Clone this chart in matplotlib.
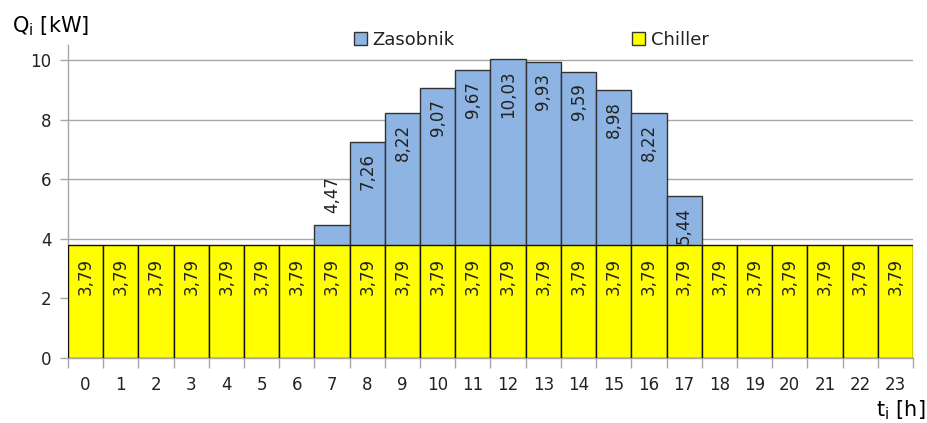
import matplotlib
matplotlib.use("Agg")
import matplotlib.pyplot as plt
from matplotlib.patches import Patch
import numpy as np

plt.rcParams['font.family'] = ['DejaVu Sans']
plt.rcParams['mathtext.default'] = 'regular'

hours = list(range(24))
chiller = [3.79] * 24
zasobnik = [None, None, None, None, None, None, None,
            4.47, 7.26, 8.22, 9.07, 9.67, 10.03, 9.93, 9.59, 8.98, 8.22, 5.44,
            None, None, None, None, None, None]
y_ticks = [0, 2, 4, 6, 8, 10]

blue = '#8DB4E2'
yellow = '#FFFF00'
grid_c = '#A6A6A6'
text_c = '#222222'

fig = plt.figure(figsize=(9.27, 4.23), dpi=100)
ax = fig.add_axes([68 / 927, 1 - 358 / 423, (913 - 68) / 927, (358 - 45) / 423])

ax.set_xlim(-0.5, 23.5)
ax.set_ylim(0, 10.5)

# storage (total heat) bars behind, chiller share in front
zx = [h for h, v in zip(hours, zasobnik) if v is not None]
zv = [v for v in zasobnik if v is not None]
ax.bar(zx, zv, width=1.0, color=blue, edgecolor='#333333', linewidth=1.0, zorder=2)
ax.bar(hours, chiller, width=1.0, color=yellow, edgecolor='#111111', linewidth=1.0, zorder=3)

label_len = 1.4  # room needed inside a bar segment for a rotated label (data units)
lab_fs = 12
for h, v in zip(zx, zv):
    txt = f"{v:.2f}".replace('.', ',')
    if v - chiller[h] > label_len:
        ax.annotate(txt, (h, v), xytext=(0, -8), textcoords='offset points',
                    rotation=90, ha='center', va='top', fontsize=lab_fs,
                    color=text_c, zorder=5)
    else:
        ax.annotate(txt, (h, v), xytext=(0, 8.5), textcoords='offset points',
                    rotation=90, ha='center', va='bottom', fontsize=lab_fs,
                    color=text_c, zorder=5)

for h, v in zip(hours, chiller):
    ax.annotate(f"{v:.2f}".replace('.', ','), (h, v), xytext=(0, -9),
                textcoords='offset points', rotation=90, ha='center', va='top',
                fontsize=lab_fs, color=text_c, zorder=5)

# axes styling
ax.set_yticks(y_ticks)
ax.yaxis.grid(True, color=grid_c, linewidth=1.0)
ax.set_axisbelow(True)
for s in ['top', 'right']:
    ax.spines[s].set_visible(False)
for s in ['left', 'bottom']:
    ax.spines[s].set_color(grid_c)
    ax.spines[s].set_linewidth(1.0)
    ax.spines[s].set_zorder(1)

ax.set_xticks(np.arange(-0.5, 24, 1.0))
ax.set_xticklabels([])
ax.set_xticks(hours, minor=True)
ax.set_xticklabels([str(h) for h in hours], minor=True)
ax.tick_params(axis='x', which='major', length=7, width=1, color=grid_c)
ax.tick_params(axis='x', which='minor', length=0, pad=13, labelsize=12, labelcolor=text_c)
ax.tick_params(axis='y', length=6, width=1, color=grid_c, pad=6, labelsize=12, labelcolor=text_c)

fig.text(12 / 927, 1 - 26 / 423, 'Q$_i$ [kW]', fontsize=15, color='black', va='center', ha='left')
fig.text(925 / 927, 1 - 410 / 423, 't$_i$ [h]', fontsize=15, color='black', va='center', ha='right')

handles = [Patch(facecolor=blue, edgecolor='#333333', label='Zasobnik'),
           Patch(facecolor=yellow, edgecolor='#333333', label='Chiller')]
fig.legend(handles=handles, loc='center', bbox_to_anchor=(531 / 927, 1 - 40 / 423),
           ncol=2, frameon=False, fontsize=13, handlelength=0.75, handleheight=0.75,
           handletextpad=0.3, columnspacing=9.8, labelcolor=text_c)

fig.savefig('out.png', dpi=100)
